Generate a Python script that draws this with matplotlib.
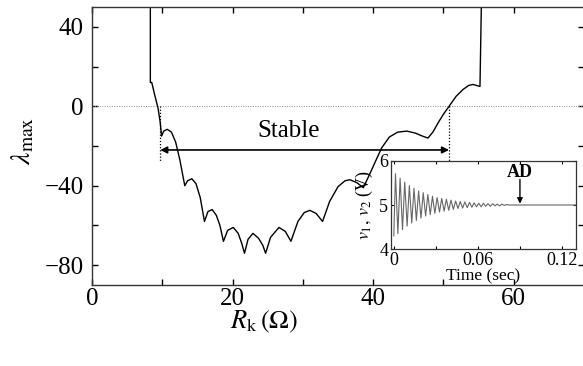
import matplotlib
matplotlib.use("Agg")
import matplotlib.pyplot as plt

plt.rcParams["font.family"] = ["Liberation Serif", "DejaVu Serif"]
plt.rcParams["mathtext.fontset"] = "stix"

rk = [8.3, 8.3, 8.5, 8.9, 9.4, 9.7, 9.9, 10.2, 10.7, 11.3, 11.9, 12.5, 13.2, 13.6, 14.2,
      14.8, 15.4, 16.0, 16.5, 17.1, 17.7, 18.2, 18.7, 19.3, 20.1, 20.8, 21.3, 21.7, 22.2,
      22.9, 23.7, 24.3, 24.7, 25.4, 26.6, 27.5, 28.3, 29.3, 30.2, 31.0, 31.9, 32.8, 33.8,
      35.0, 36.0, 36.7, 37.7, 38.6, 39.4, 40.3, 41.2, 42.3, 43.5, 44.8, 46.0, 47.0, 47.8,
      48.5, 49.3, 50.0, 50.8, 51.8, 52.8, 53.6, 54.2, 55.2, 55.4]
lam = [52, 12, 12, 6, -1, -8, -15, -12.5, -11.6, -13, -18, -27, -40, -37.5, -36.5,
       -39, -46, -58, -53, -52, -55, -60, -68, -62.5, -61, -64, -69, -74, -67,
       -64, -66.5, -70, -74, -66, -61, -63, -68, -58, -53.5, -52.4, -54, -58, -48,
       -40.5, -37.5, -37, -38.5, -41, -35, -28, -21, -15.5, -13, -12.5, -13.5, -15, -16,
       -13, -8, -4, 0, 5, 8.5, 10.5, 11, 10, 52]

stable_lo, stable_hi = 9.7, 50.8

# inset: v1, v2 transient (extrema)
t_ext = [0.0, 0.0012, 0.0029, 0.0045, 0.0062, 0.0078, 0.0095, 0.0111, 0.0128, 0.0144,
         0.0161, 0.0177, 0.0194, 0.0210, 0.0227, 0.0243, 0.0260, 0.0276, 0.0293, 0.0309,
         0.0326, 0.0342, 0.0359, 0.0375, 0.0392, 0.0408, 0.0425, 0.0441, 0.0458, 0.0474,
         0.0491, 0.0507, 0.0524, 0.0540, 0.0557, 0.0573, 0.0590, 0.0606, 0.0623, 0.0639,
         0.0656, 0.0672, 0.0689, 0.0705, 0.0722, 0.0738, 0.0755, 0.0771, 0.0788, 0.0804,
         0.0820, 0.1300]
v_ext = [4.30, 5.71, 4.35, 5.61, 4.44, 5.52, 4.52, 5.44, 4.59, 5.38,
         4.65, 5.32, 4.70, 5.28, 4.75, 5.24, 4.78, 5.20, 4.81, 5.17,
         4.84, 5.15, 4.86, 5.13, 4.88, 5.11, 4.90, 5.09, 4.92, 5.08,
         4.93, 5.07, 4.94, 5.06, 4.95, 5.05, 4.96, 5.04, 4.96, 5.04,
         4.97, 5.03, 4.97, 5.03, 4.98, 5.02, 4.98, 5.02, 4.99, 5.01,
         5.00, 5.00]
t_ad = 0.09

fig = plt.figure(figsize=(5.83, 3.66), dpi=100)
ax = fig.add_axes([92 / 583, 81 / 366, 492 / 583, 278 / 366])
ax.plot(rk, lam, color="black", lw=1.0)
ax.axhline(0, color="0.55", lw=0.7, ls=(0, (1, 1.5)))
for xv in (stable_lo, stable_hi):
    ax.plot([xv, xv], [0, -28], color="black", lw=0.9, ls=(0, (1, 1.5)))
ax.annotate("", xy=(stable_lo, -22), xytext=(stable_hi, -22),
            arrowprops=dict(arrowstyle="<|-|>", color="black", lw=1.2,
                            mutation_scale=10, shrinkA=0, shrinkB=0))
ax.text(28, -12.5, "Stable", fontsize=18, ha="center", va="center")
ax.set_xlim(0, 70)
ax.set_ylim(-90, 50)
ax.set_xticks([0, 20, 40, 60])
ax.set_xticks([10, 30, 50], minor=True)
ax.set_yticks([-80, -40, 0, 40])
ax.set_yticks([-60, -20, 20], minor=True)
ax.set_yticklabels(["\u221280", "\u221240", "0", "40"])
ax.tick_params(which="both", direction="in", top=True, right=True, labelsize=18,
               length=4, width=1)
ax.tick_params(axis="x", pad=2)
ax.tick_params(axis="y", pad=6)
for s in ax.spines.values():
    s.set_linewidth(1.0)
    s.set_color("0.2")
fig.text(23 / 583, 225 / 366, r"$\lambda_{\rm max}$", fontsize=20, rotation=90,
         ha="center", va="center")
fig.text(264 / 583, 44 / 366, r"$R_{\rm k}\,(\Omega)$", fontsize=19,
         ha="center", va="center")

ins = fig.add_axes([391 / 583, 117 / 366, 185 / 583, 88 / 366])
ins.plot(t_ext, v_ext, color="0.4", lw=0.8)
ins.annotate("", xy=(t_ad, 5.03), xytext=(t_ad, 5.58),
             arrowprops=dict(arrowstyle="-|>", color="black", lw=1.0,
                             mutation_scale=8, shrinkA=0, shrinkB=0))
ins.text(t_ad, 5.74, "AD", fontsize=13, fontweight="bold", ha="center", va="center")
ins.set_xlim(-0.002, 0.13)
ins.set_ylim(4, 6)
ins.set_xticks([0, 0.06, 0.12])
ins.set_xticklabels(["0", "0.06", "0.12"])
ins.set_xticks([0.03, 0.09], minor=True)
ins.set_yticks([4, 5, 6])
ins.tick_params(which="both", direction="in", top=True, right=True, labelsize=13,
                length=2.5, width=0.8, pad=2)
for s in ins.spines.values():
    s.set_linewidth(0.9)
    s.set_color("0.2")
ins.set_xlabel("Time (sec)", fontsize=12.5, labelpad=0)
ins.set_ylabel(r"$v_1,\,v_2$ (V)", fontsize=13, labelpad=3)

fig.savefig("out.png", dpi=100)
